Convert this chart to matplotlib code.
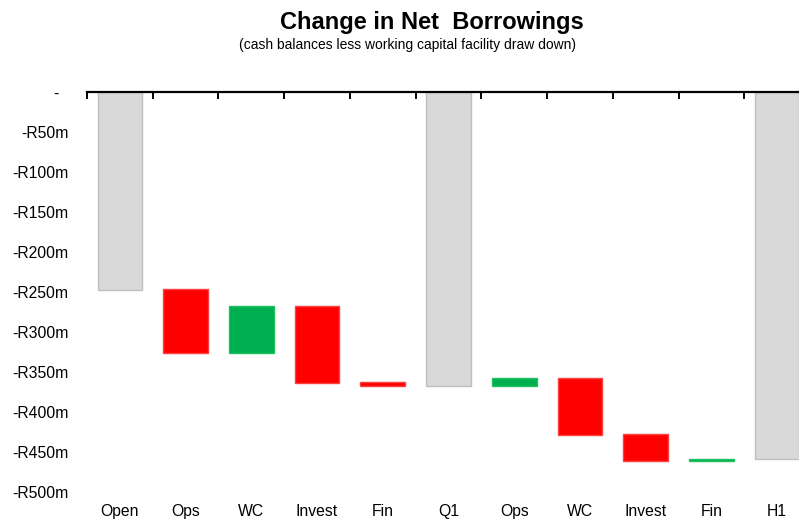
import matplotlib.pyplot as plt
import numpy as np

plt.rcParams['font.family'] = ['Liberation Sans', 'DejaVu Sans']

# waterfall data (R millions, net borrowings shown as negatives)
labels = ["Open", "Ops", "WC", "Invest", "Fin", "Q1", "Ops", "WC", "Invest", "Fin", "H1"]
bar_start = [0, -247, -327, -268, -363, 0, -368, -358, -428, -461, 0]
bar_end = [-248, -327, -268, -364, -368, -368, -358, -429, -461, -459, -459]
kind = ["total", "up", "down", "up", "up", "total", "down", "up", "up", "down", "total"]

y_ticks = [0, -50, -100, -150, -200, -250, -300, -350, -400, -450, -500]
y_tick_labels = ["-  "] + [f"-R{abs(v)}m" for v in y_ticks[1:]]

colors = {"total": "#D9D9D9", "up": "#FF0000", "down": "#00B050"}
edges = {"total": "#BFBFBF", "up": "#FF4040", "down": "#20C060"}


def main():
    fig = plt.figure(figsize=(7.99, 5.21), dpi=100)
    ax = fig.add_axes([87 / 799, 1 - 491.7 / 521, 723 / 799, 400 / 521])

    x = np.arange(len(labels))
    heights = [e - s for s, e in zip(bar_start, bar_end)]
    ax.bar(x, heights, bottom=bar_start, width=0.68,
           color=[colors[k] for k in kind],
           edgecolor=[edges[k] for k in kind], linewidth=1.0, zorder=2)

    ax.set_xlim(-0.5, len(labels) - 0.5)
    ax.set_ylim(-500, 0)

    for s in ["left", "right", "bottom"]:
        ax.spines[s].set_visible(False)
    ax.spines["top"].set_linewidth(1.6)
    ax.spines["top"].set_color("black")

    # boundary ticks on the zero line
    ax.set_xticks(np.arange(-0.5, len(labels) + 0.5, 1.0), minor=True)
    ax.tick_params(axis="x", which="minor", top=True, bottom=False,
                   direction="in", length=5, width=1.4, color="black")
    # category labels at the bottom
    ax.set_xticks(x)
    ax.set_xticklabels(labels, fontsize=11.3)
    ax.tick_params(axis="x", which="major", length=0, pad=9, bottom=True, top=False)

    ax.set_yticks(y_ticks)
    ax.set_yticklabels(y_tick_labels, fontsize=11.3)
    ax.tick_params(axis="y", length=0, pad=13.5)

    fig.text(432 / 799, 1 - 22 / 521, "Change in Net  Borrowings",
             ha="center", va="center", fontsize=17, fontweight="bold")
    fig.text(408 / 799, 1 - 45 / 521,
             "(cash balances less working capital facility draw down)",
             ha="center", va="center", fontsize=10)

    fig.savefig("out.png", dpi=100)
    plt.close(fig)


if __name__ == "__main__":
    main()
